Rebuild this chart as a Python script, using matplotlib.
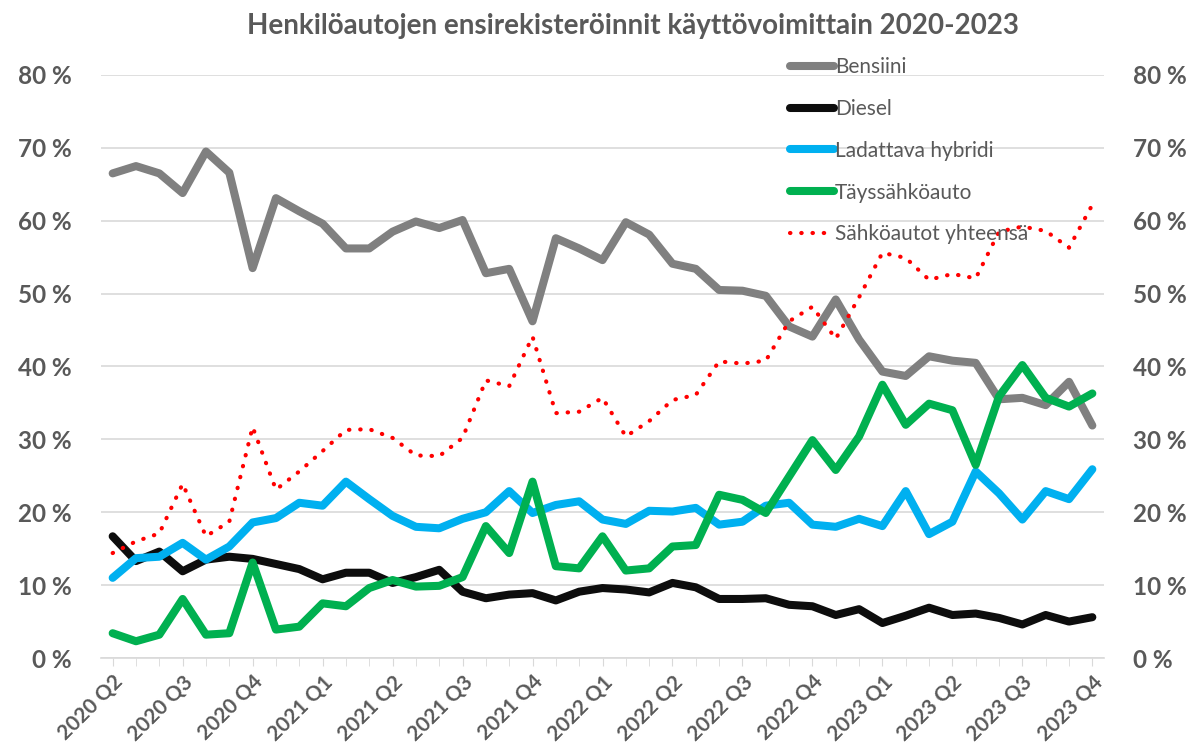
import matplotlib.pyplot as plt
import numpy as np

plt.rcParams['font.family'] = ['Lato', 'DejaVu Sans']

# kuukausittaiset osuudet (%), 2020-04 ... 2023-10
bensiini = [66.5, 67.5, 66.5, 63.8, 69.5, 66.6, 53.5, 63.1, 61.3, 59.6, 56.2, 56.2,
            58.5, 59.9, 59.0, 60.1, 52.8, 53.4, 46.2, 57.6, 56.2, 54.6, 59.8, 58.1,
            54.1, 53.4, 50.5, 50.4, 49.7, 45.5, 44.1, 49.2, 43.7, 39.3, 38.7, 41.4,
            40.8, 40.5, 35.5, 35.7, 34.7, 37.9, 31.9]
diesel = [16.7, 13.3, 14.6, 11.9, 13.5, 13.9, 13.6, 12.9, 12.2, 10.8, 11.7, 11.7,
          10.3, 11.1, 12.1, 9.1, 8.2, 8.7, 8.9, 7.9, 9.1, 9.6, 9.4, 9.0,
          10.3, 9.7, 8.1, 8.1, 8.2, 7.3, 7.1, 5.9, 6.7, 4.8, 5.8, 6.9,
          5.9, 6.1, 5.5, 4.6, 5.9, 5.0, 5.6]
hybridi = [11.0, 13.7, 13.9, 15.8, 13.5, 15.3, 18.6, 19.2, 21.3, 20.9, 24.2, 21.8,
           19.5, 18.0, 17.8, 19.1, 20.0, 22.9, 19.9, 21.0, 21.5, 19.0, 18.4, 20.2,
           20.1, 20.6, 18.3, 18.7, 20.9, 21.3, 18.3, 18.0, 19.1, 18.1, 22.9, 17.0,
           18.7, 25.6, 22.6, 19.0, 22.9, 21.8, 25.9]
tayssahko = [3.4, 2.3, 3.2, 8.1, 3.2, 3.4, 13.1, 3.9, 4.3, 7.5, 7.1, 9.6,
             10.7, 9.8, 9.9, 11.1, 18.1, 14.4, 24.2, 12.6, 12.3, 16.7, 12.0, 12.3,
             15.3, 15.5, 22.4, 21.7, 19.9, 24.9, 29.9, 25.8, 30.4, 37.5, 32.0, 34.9,
             34.0, 26.5, 35.9, 40.2, 35.7, 34.5, 36.3]
sahko_yht = [14.4, 16.0, 17.1, 23.9, 16.7, 18.7, 31.7, 23.1, 25.6, 28.4, 31.3, 31.4,
             30.2, 27.8, 27.7, 30.2, 38.1, 37.3, 44.1, 33.6, 33.8, 35.7, 30.4, 32.5,
             35.4, 36.1, 40.7, 40.4, 40.8, 46.2, 48.2, 43.8, 49.5, 55.6, 54.9, 51.9,
             52.7, 52.1, 58.5, 59.2, 58.6, 56.3, 62.2]
kvartaalit = ['2020 Q2', '2020 Q3', '2020 Q4', '2021 Q1', '2021 Q2', '2021 Q3',
              '2021 Q4', '2022 Q1', '2022 Q2', '2022 Q3', '2022 Q4', '2023 Q1',
              '2023 Q2', '2023 Q3', '2023 Q4']

txt = '#595959'
x = np.arange(len(bensiini))

fig = plt.figure(figsize=(11.98, 7.47), dpi=100)
ax = fig.add_axes([101 / 1198, 1 - 658 / 747, 1003 / 1198, 583 / 747])

lw = 5.8
kw = dict(solid_joinstyle='round', solid_capstyle='round')
ax.plot(x, bensiini, color='#808080', lw=lw, label='Bensiini', **kw)
ax.plot(x, diesel, color='#0d0d0d', lw=lw, label='Diesel', **kw)
ax.plot(x, hybridi, color='#00b0f0', lw=lw, label='Ladattava hybridi', **kw)
ax.plot(x, tayssahko, color='#00b050', lw=lw, label='Täyssähköauto', **kw)
ax.plot(x, sahko_yht, color='#ff0000', lw=3, linestyle=(0, (0.1, 2.6)),
        dash_capstyle='round', label='Sähköautot yhteensä')

ax.set_xlim(-0.5, len(x) - 0.5)
ax.set_ylim(0, 80)
yt = np.arange(0, 81, 10)
ax.set_yticks(yt)
ax.set_yticklabels([f'{v} %' for v in yt], fontsize=17.5, fontweight='bold', color=txt)
ax.tick_params(axis='y', length=0, pad=21, labelright=True)
ax.grid(axis='y', color='#d9d9d9', lw=1.2)
ax.set_axisbelow(True)

ax.set_xticks(x, minor=True)
ax.set_xticks(x[::3])
ax.set_xticklabels(kvartaalit, rotation=45, ha='right', va='top',
                   rotation_mode='anchor', fontsize=15, fontweight='bold', color=txt)
ax.tick_params(axis='x', which='both', length=6, color='#d9d9d9', pad=4)

for s in ['top', 'left', 'right']:
    ax.spines[s].set_visible(False)
ax.spines['bottom'].set_color('#d9d9d9')
ax.spines['bottom'].set_linewidth(1.2)

fig.suptitle('Henkilöautojen ensirekisteröinnit käyttövoimittain 2020-2023',
             x=0.528, y=0.982, fontsize=20, fontweight='bold', color=txt)

leg = fig.legend(loc='upper left', bbox_to_anchor=(790 / 1198, 1 - 57 / 747),
                 frameon=False, fontsize=15, handlelength=2.1, handletextpad=0.05,
                 labelspacing=1.05, borderpad=0, borderaxespad=0)
for t in leg.get_texts():
    t.set_color(txt)

fig.savefig('out.png', dpi=100)
